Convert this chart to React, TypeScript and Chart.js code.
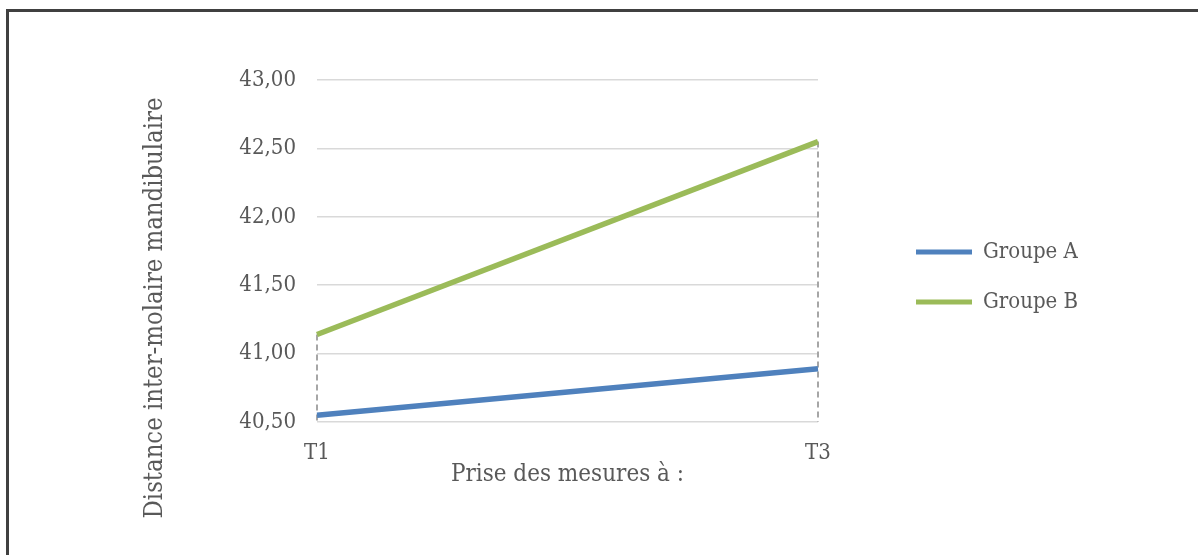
import React, { useEffect, useRef } from "react";
import { Chart, registerables } from "chart.js";

Chart.register(...registerables);

const categories = ["T1", "T3"];
const groupA = [40.55, 40.89];
const groupB = [41.14, 42.55];
const seriesNames = ["Groupe A", "Groupe B"];
const yTicks = { min: 40.5, max: 43.0, step: 0.5 };
const yTitle = "Distance inter-molaire mandibulaire";
const xTitle = "Prise des mesures à :";

const FONT = "'DejaVu Serif Condensed', 'DejaVu Serif', serif";
const TEXT = "#595959";

const dropLines = {
  id: "dropLines",
  beforeDatasetsDraw(chart: any) {
    const { ctx, chartArea, scales } = chart;
    const xs = scales.x;
    const ys = scales.y;
    ctx.save();
    ctx.strokeStyle = "#A6A6A6";
    ctx.lineWidth = 2;
    ctx.setLineDash([6, 4]);
    categories.forEach((_, i) => {
      let max = -Infinity;
      chart.data.datasets.forEach((ds: any) => {
        if (ds.data[i] > max) max = ds.data[i];
      });
      const x = Math.round(xs.getPixelForValue(i));
      ctx.beginPath();
      ctx.moveTo(x, ys.getPixelForValue(max));
      ctx.lineTo(x, chartArea.bottom);
      ctx.stroke();
    });
    ctx.restore();
  },
};

// Places the legend block at the right and centres the y-axis title on the
// whole chart frame (as in the reference), after Chart.js has laid out.
const placer = {
  id: "placer",
  afterLayout(chart: any) {
    const lg = chart.legend;
    if (lg) {
      lg.left = 888;
      lg.right = 1190;
      lg.top = 213;
      lg.bottom = 520;
      lg.width = lg.right - lg.left;
      lg.height = lg.bottom - lg.top;
    }
    const ys = chart.scales.y;
    if (ys) {
      ys.bottom = 536;
    }
  },
};

export default function App() {
  const ref = useRef<HTMLCanvasElement | null>(null);
  useEffect(() => {
    if (!ref.current) return;
    const chart = new Chart(ref.current, {
      type: "line",
      data: {
        labels: categories,
        datasets: [
          {
            label: seriesNames[0],
            data: groupA,
            borderColor: "#4F81BD",
            backgroundColor: "#4F81BD",
            borderWidth: 5.5,
            pointRadius: 0,
            tension: 0,
          },
          {
            label: seriesNames[1],
            data: groupB,
            borderColor: "#9BBB59",
            backgroundColor: "#9BBB59",
            borderWidth: 5.5,
            pointRadius: 0,
            tension: 0,
          },
        ],
      },
      options: {
        responsive: false,
        animation: false,
        devicePixelRatio: 1,
        layout: { padding: { left: 0, top: 80, right: 380, bottom: 0 } },
        plugins: {
          tooltip: { enabled: false },
          legend: {
            position: "chartArea",
            align: "start",
            labels: {
              boxWidth: 56,
              boxHeight: 5,
              padding: 28,
              color: TEXT,
              font: { family: FONT, size: 22 },
              generateLabels: (chart: any) =>
                chart.data.datasets.map((ds: any, i: number) => ({
                  text: ds.label,
                  fillStyle: ds.borderColor,
                  strokeStyle: ds.borderColor,
                  fontColor: TEXT,
                  lineWidth: 0,
                  datasetIndex: i,
                  hidden: false,
                })),
            },
          },
        },
        scales: {
          x: {
            type: "category",
            offset: false,
            grid: { display: false, drawTicks: false },
            border: { display: false },
            ticks: {
              color: TEXT,
              font: { family: FONT, size: 22 },
              padding: 18,
              maxRotation: 0,
            },
            title: {
              display: true,
              text: xTitle,
              color: TEXT,
              font: { family: FONT, size: 24 },
              padding: { top: 0, bottom: 66 },
            },
            afterFit: (s: any) => {
              s.height = 133;
            },
          },
          y: {
            min: yTicks.min,
            max: yTicks.max,
            grid: { color: "#D9D9D9", lineWidth: 1.5, drawTicks: false },
            border: { display: false },
            ticks: {
              stepSize: yTicks.step,
              color: TEXT,
              font: { family: FONT, size: 22 },
              padding: 21,
              callback: (v: any) => Number(v).toFixed(2).replace(".", ","),
            },
            title: {
              display: true,
              text: yTitle,
              color: TEXT,
              font: { family: FONT, size: 25.4 },
              padding: { top: 140, bottom: 0 },
            },
            afterFit: (s: any) => {
              s.width = 317;
            },
          },
        },
      },
      plugins: [dropLines, placer],
    });
    return () => chart.destroy();
  }, []);

  return (
    <div
      style={{
        position: "absolute",
        left: 0,
        top: 0,
        width: 1198,
        height: 555,
        overflow: "hidden",
        background: "#fff",
      }}
    >
      <canvas
        ref={ref}
        width={1198}
        height={555}
        style={{ position: "absolute", left: 0, top: 0, width: 1198, height: 555 }}
      />
      <div
        style={{
          position: "absolute",
          left: 6,
          top: 9,
          width: 1300,
          height: 700,
          border: "3px solid #404040",
          pointerEvents: "none",
        }}
      />
    </div>
  );
}
